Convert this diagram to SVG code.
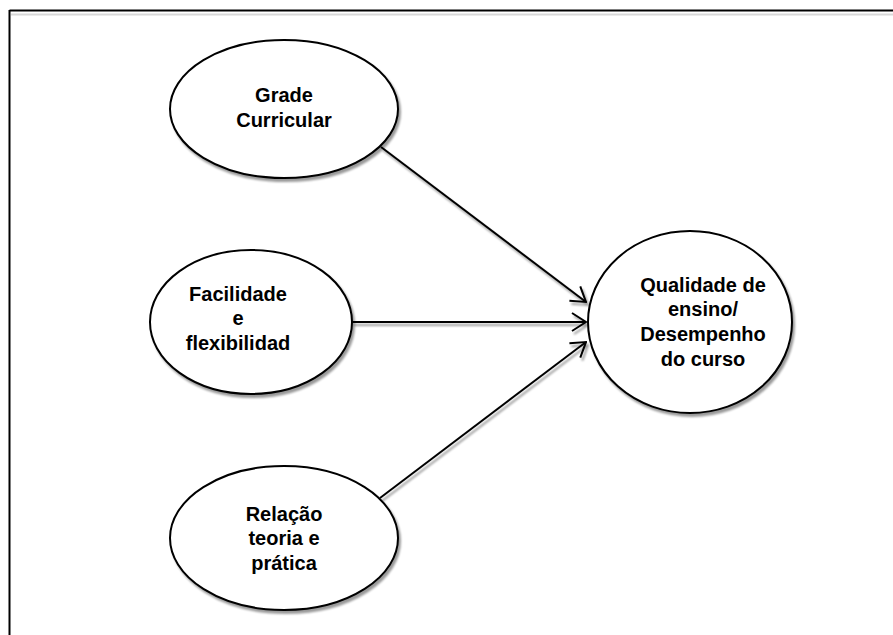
<svg xmlns="http://www.w3.org/2000/svg" width="893" height="635" viewBox="0 0 893 635">
  <defs>
    <filter id="shadow" x="-10%" y="-10%" width="130%" height="130%">
      <feGaussianBlur in="SourceAlpha" stdDeviation="0.9" result="b"/>
      <feOffset in="b" dx="2" dy="3" result="o"/>
      <feComponentTransfer in="o" result="s">
        <feFuncA type="linear" slope="0.4"/>
      </feComponentTransfer>
      <feMerge>
        <feMergeNode in="s"/>
        <feMergeNode in="SourceGraphic"/>
      </feMerge>
    </filter>
    <marker id="arrow" viewBox="0 0 16 20" refX="15" refY="10" markerWidth="16" markerHeight="20" markerUnits="userSpaceOnUse" orient="auto">
      <path d="M1,1 L15,10 L1,19" fill="none" stroke="#000" stroke-width="2"/>
    </marker>
    <style>
      .node ellipse { fill: #fff; stroke: #000; stroke-width: 2; }
      .node text { font-family: "Liberation Sans", Arial, sans-serif; font-weight: bold; font-size: 20px; fill: #000; text-anchor: middle; }
      .edge { stroke: #000; stroke-width: 2; fill: none; marker-end: url(#arrow); }
    </style>
  </defs>

  <rect width="893" height="635" fill="#fff"/>

  <!-- frame: top and left rules only -->
  <g id="frame">
    <line x1="9.5" y1="10.5" x2="893" y2="10.5" stroke="#000" stroke-width="2"/>
    <line x1="11" y1="14.5" x2="893" y2="14.5" stroke="#d8d8d8" stroke-width="2"/>
    <line x1="9.5" y1="10" x2="9.5" y2="635" stroke="#000" stroke-width="2"/>
  </g>

  <g id="connectors" filter="url(#shadow)">
    <line class="edge" x1="381" y1="147" x2="586" y2="302"/>
    <line class="edge" x1="352" y1="322" x2="586" y2="322"/>
    <line class="edge" x1="380" y1="498" x2="586" y2="342"/>
  </g>

  <g id="grade-curricular" class="node">
    <ellipse cx="284" cy="109" rx="114" ry="69" filter="url(#shadow)"/>
    <text x="284" y="102">Grade</text>
    <text x="284" y="127">Curricular</text>
  </g>

  <g id="facilidade" class="node">
    <ellipse cx="251" cy="322" rx="101" ry="72" filter="url(#shadow)"/>
    <text x="238" y="301">Facilidade</text>
    <text x="238" y="325">e</text>
    <text x="238" y="350">flexibilidad</text>
  </g>

  <g id="relacao" class="node">
    <ellipse cx="284" cy="538" rx="114" ry="72" filter="url(#shadow)"/>
    <text x="284" y="521">Relação</text>
    <text x="284" y="545">teoria e</text>
    <text x="284" y="570">prática</text>
  </g>

  <g id="qualidade" class="node">
    <ellipse cx="690" cy="322" rx="102" ry="91" filter="url(#shadow)"/>
    <text x="703" y="292">Qualidade de</text>
    <text x="703" y="316">ensino/</text>
    <text x="703" y="341">Desempenho</text>
    <text x="703" y="366">do curso</text>
  </g>
</svg>
